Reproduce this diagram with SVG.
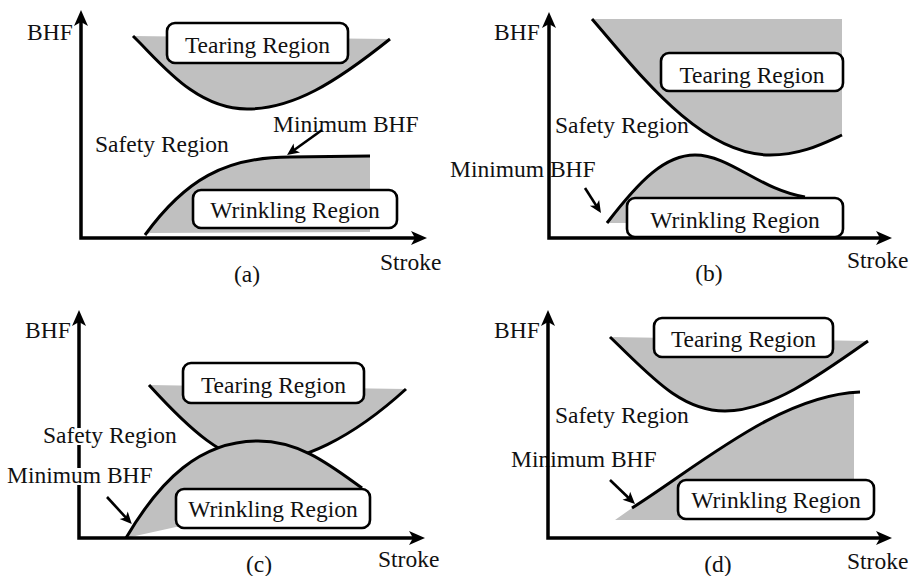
<svg xmlns="http://www.w3.org/2000/svg" width="911" height="576" viewBox="0 0 911 576">
<style>
text{font-family:'Liberation Serif','Tinos','Times New Roman','DejaVu Serif','Noto Serif',serif;font-size:23.5px;fill:#111}
.c{text-anchor:middle}
.fill{fill:#c0c0c0;stroke:none}
.curve{fill:none;stroke:#000;stroke-width:3}
.box{fill:#fff;stroke:#000;stroke-width:2.6}
.axis{fill:none;stroke:#000;stroke-width:3.5;stroke-linejoin:miter;marker-start:url(#ah);marker-end:url(#ah)}
.arr{fill:none;stroke:#000;stroke-width:2.6;marker-end:url(#sh)}
</style>
<defs>
<marker id="ah" viewBox="-18 -8 19 16" refX="-6" refY="0" markerWidth="19" markerHeight="16" markerUnits="userSpaceOnUse" orient="auto-start-reverse">
<path d="M0,0 L-16,-7 L-12,0 L-16,7 Z" fill="#000"/>
</marker>
<marker id="sh" viewBox="-13 -6 14 12" refX="-4" refY="0" markerWidth="14" markerHeight="12" markerUnits="userSpaceOnUse" orient="auto">
<path d="M0,0 L-12,-5.5 L-9,0 L-12,5.5 Z" fill="#000"/>
</marker>
</defs>

<!-- Panel (a) -->
<g id="panel-a">
<path class="fill" d="M133,36 C160,62 195,109 247,109 C293,109 335,83 390,39 Z"/>
<path class="curve" d="M133,36 C160,62 195,109 247,109 C293,109 335,83 390,39"/>
<path class="fill" d="M145,235 C185,180 225,157 290,157 L370,156 L370,232 L150,233 Z"/>
<path class="curve" d="M145,235 C185,180 225,157 290,157 L370,156"/>
<g id="a-tearing"><rect class="box" x="167" y="23" width="181" height="40" rx="8"/><text class="c" x="257.5" y="53">Tearing Region</text></g>
<g id="a-wrinkling"><rect class="box" x="193" y="190" width="204" height="38" rx="8"/><text class="c" x="295" y="218">Wrinkling Region</text></g>
<text x="95" y="152">Safety Region</text>
<text x="273" y="132">Minimum BHF</text>
<text x="27" y="40">BHF</text>
<text x="380" y="270">Stroke</text>
<text class="c" x="247" y="282">(a)</text>
</g>

<!-- Panel (b) -->
<g id="panel-b">
<path class="fill" d="M592,19 C638,72 700,155 770,155 C800,155 820,145 842,135 L842,19 Z"/>
<path class="curve" d="M592,19 C638,72 700,155 770,155 C800,155 820,145 842,135"/>
<path class="fill" d="M607,223 C640,180 665,155 695,155 C730,155 760,190 805,197 L805,223 Z"/>
<path class="curve" d="M607,223 C640,180 665,155 695,155 C730,155 760,190 805,197"/>
<g id="b-tearing"><rect class="box" x="661" y="53" width="182" height="38" rx="8"/><text class="c" x="752" y="83">Tearing Region</text></g>
<g id="b-wrinkling"><rect class="box" x="627" y="198" width="216" height="39" rx="8"/><text class="c" x="735" y="228">Wrinkling Region</text></g>
<text x="555" y="133">Safety Region</text>
<text x="450" y="177">Minimum BHF</text>
<text x="494" y="40">BHF</text>
<text x="847" y="268">Stroke</text>
<text class="c" x="709" y="281">(b)</text>
</g>

<!-- Panel (c) -->
<g id="panel-c">
<path class="fill" d="M149,385 C190,430 225,462 262,462 C300,462 350,440 406,389 Z"/>
<path class="curve" d="M149,385 C190,430 225,462 262,462 C300,462 350,440 406,389"/>
<path class="fill" d="M126,538 C160,480 200,441 258,441 C300,441 330,465 362,488 L362,520 L176,527 Z"/>
<path class="curve" d="M126,538 C160,480 200,441 258,441 C300,441 330,465 362,488"/>
<g id="c-tearing"><rect class="box" x="183" y="363" width="181" height="40" rx="8"/><text class="c" x="273.5" y="393">Tearing Region</text></g>
<g id="c-wrinkling"><rect class="box" x="176" y="489" width="194" height="39" rx="8"/><text class="c" x="273" y="517">Wrinkling Region</text></g>
<text x="25" y="338">BHF</text>
<text x="378" y="567">Stroke</text>
<text class="c" x="259" y="572">(c)</text>
</g>

<!-- Panel (d) -->
<g id="panel-d">
<path class="fill" d="M610,337 C650,375 680,411 725,411 C770,411 820,375 868,341 Z"/>
<path class="curve" d="M610,337 C650,375 680,411 725,411 C770,411 820,375 868,341"/>
<path class="fill" d="M615,520 L632,508 C700,465 780,395 860,392 L854,392 L854,520 Z"/>
<path class="curve" d="M632,508 C700,465 780,395 860,392"/>
<g id="d-tearing"><rect class="box" x="654" y="318" width="179" height="39" rx="8"/><text class="c" x="743.5" y="347">Tearing Region</text></g>
<g id="d-wrinkling"><rect class="box" x="678" y="480" width="196" height="39" rx="8"/><text class="c" x="776" y="508">Wrinkling Region</text></g>
<text x="555" y="423">Safety Region</text>
<text x="511" y="467">Minimum BHF</text>
<text x="494" y="338">BHF</text>
<text x="847" y="569">Stroke</text>
<text class="c" x="718" y="572">(d)</text>
</g>

<!-- Connectors: axes and pointer arrows -->
<g id="connectors">
<path class="axis" d="M81,16 L81,238 L421,238"/>
<path class="axis" d="M549,18 L549,238 L886,238"/>
<path class="axis" d="M79,316 L79,538 L419,538"/>
<path class="axis" d="M548,316 L548,538 L886,538"/>
<path class="arr" d="M322,130 L290.3,152.7"/>
<path class="arr" d="M585,188 L598.8,209.6"/>
<path class="arr" d="M107,497 L129.1,521.1"/>
<path class="arr" d="M610,480 L632.1,501.2"/>
</g>

<!-- Panel (c) labels drawn over the axis with knock-outs -->
<g id="c-labels">
<rect x="75" y="428" width="9" height="17" fill="#fff"/>
<rect x="75" y="468" width="9" height="17" fill="#fff"/>
<text x="43" y="443">Safety Region</text>
<text x="7" y="483">Minimum BHF</text>
</g>
</svg>
